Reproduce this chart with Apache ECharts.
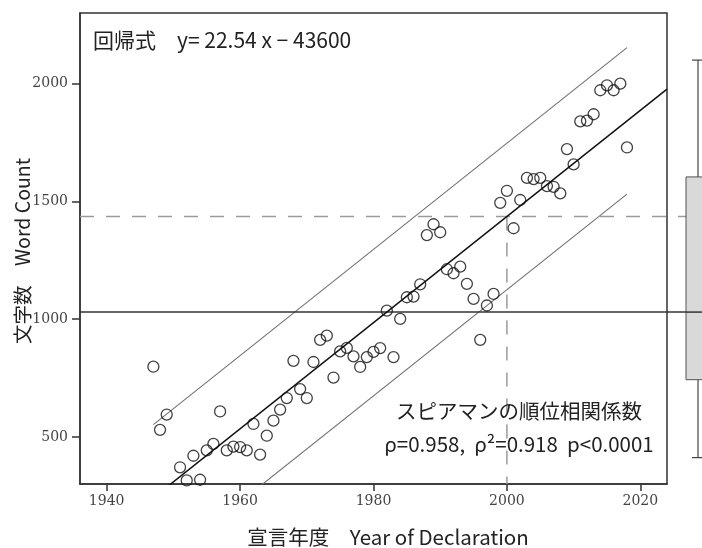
<!DOCTYPE html>
<html>
<head>
<meta charset="utf-8">
<script src="https://cdn.jsdelivr.net/npm/echarts@6/dist/echarts.min.js"></script>
<style>
  html, body { margin: 0; padding: 0; background: #fff; }
  #chart { width: 702px; height: 548px; }
</style>
</head>
<body>
<div id="chart"></div>
<script>
// Year of each declaration and its word count
const years = [
  1947, 1948, 1949, 1951, 1952, 1953, 1954, 1955, 1956, 1957, 1958, 1959, 1960, 1961, 1962, 1963, 1964,
  1965, 1966, 1967, 1968, 1969, 1970, 1971, 1972, 1973, 1974, 1975, 1976, 1977, 1978, 1979, 1980, 1981,
  1982, 1983, 1984, 1985, 1986, 1987, 1988, 1989, 1990, 1991, 1992, 1993, 1994, 1995, 1996, 1997, 1998,
  1999, 2000, 2001, 2002, 2003, 2004, 2005, 2006, 2007, 2008, 2009, 2010, 2011, 2012, 2013, 2014, 2015,
  2016, 2017, 2018
];
const wordCounts = [
  798, 530, 595, 371, 315, 420, 318, 443, 470, 608, 443, 459, 457, 443, 555, 425, 505,
  569, 616, 665, 823, 703, 665, 818, 912, 930, 752, 863, 878, 842, 797, 839, 861, 877,
  1036, 839, 1001, 1093, 1096, 1148, 1357, 1403, 1369, 1212, 1195, 1223, 1150, 1086, 912, 1058, 1107,
  1494, 1545, 1386, 1506, 1600, 1595, 1600, 1565, 1562, 1534, 1722, 1657, 1840, 1843, 1870, 1972, 1993,
  1972, 2000, 1729
];

// Axis ranges and tick labels
const xRange = [1936, 2024];
const yRange = [300, 2300];
const xTicks = [1940, 1960, 1980, 2000, 2020];
const yTicks = [500, 1000, 1500, 2000];

// Least-squares fit and its prediction band
const fitSlope = 22.54;
const fitIntercept = -43644;
const bandHalfWidth = 311;
const bandYears = [1947, 2018];
const markYear = 2000;

// Distribution of word counts: [lower whisker, Q1, median, Q3, upper whisker]
const boxStats = [412, 743, 1030, 1604, 2100];

// Spearman statistics
const rho = '0.958';
const rho2 = '0.918';
const pText = 'p<0.0001';

const fit = x => fitSlope * x + fitIntercept;
const markValue = fit(markYear);

const scatterData = years.map((y, i) => [y, wordCounts[i]]);
const fitLine = xRange.map(x => [x, fit(x)]);
const upperBand = bandYears.map(x => [x, fit(x) + bandHalfWidth]);
const lowerBand = bandYears.map(x => [x, fit(x) - bandHalfWidth]);

const FONT = '"Noto Sans CJK JP", "Noto Sans", sans-serif';
const TICK_FONT = '"DejaVu Serif", "Liberation Serif", serif';
const TEXT = '#222';
const equationText = '回帰式　y= ' + fitSlope.toFixed(2) + ' x − ' + Math.round(-fitIntercept / 100) * 100;

const chart = echarts.init(document.getElementById('chart'), null, { renderer: 'canvas' });

const hiddenAxis = {
  show: false, axisLine: { show: false }, axisTick: { show: false },
  axisLabel: { show: false }, splitLine: { show: false }
};
const plainNumber = v => String(v);

chart.setOption({
  animation: false,
  backgroundColor: '#fff',
  grid: [
    { left: 80, top: 13, width: 587, height: 471, show: true, borderColor: '#333', borderWidth: 1.5,
      backgroundColor: 'transparent', outerBoundsMode: 'none' },
    { left: 80, top: 13, width: 606, height: 471, outerBoundsMode: 'none' },
    { left: 686, top: 13, width: 24, height: 471, outerBoundsMode: 'none' }
  ],
  xAxis: [
    {
      gridIndex: 0, type: 'value', min: xRange[0], max: xRange[1],
      axisLine: { show: true, onZero: false, lineStyle: { color: '#333', width: 1.5 } },
      axisTick: { show: true, customValues: xTicks, length: 7, lineStyle: { color: '#333', width: 1.5 } },
      axisLabel: { customValues: xTicks, formatter: plainNumber, margin: 10,
        fontFamily: TICK_FONT, fontSize: 14, color: '#444' },
      splitLine: { show: false }
    },
    Object.assign({ gridIndex: 1, type: 'value', min: 0, max: 1 }, hiddenAxis),
    Object.assign({ gridIndex: 2, type: 'category', data: ['文字数'], boundaryGap: true }, hiddenAxis)
  ],
  yAxis: [
    {
      gridIndex: 0, type: 'value', min: yRange[0], max: yRange[1],
      axisLine: { show: true, onZero: false, lineStyle: { color: '#333', width: 1.5 } },
      axisTick: { show: true, customValues: yTicks, length: 8, lineStyle: { color: '#333', width: 1.5 } },
      axisLabel: { customValues: yTicks, formatter: plainNumber, margin: 12,
        fontFamily: TICK_FONT, fontSize: 14, color: '#444' },
      splitLine: { show: false }
    },
    Object.assign({ gridIndex: 1, type: 'value', min: yRange[0], max: yRange[1] }, hiddenAxis),
    Object.assign({ gridIndex: 2, type: 'value', min: yRange[0], max: yRange[1] }, hiddenAxis)
  ],
  series: [
    // median reference line running out to the box plot
    {
      type: 'line', xAxisIndex: 1, yAxisIndex: 1, symbol: 'none', silent: true, z: 3,
      data: [[0, boxStats[2]], [1, boxStats[2]]],
      lineStyle: { color: '#333', width: 1.5 }
    },
    // fitted value at the marked year
    {
      type: 'line', xAxisIndex: 1, yAxisIndex: 1, symbol: 'none', silent: true, z: 2,
      data: [[0, markValue], [1, markValue]],
      lineStyle: { color: '#9a9a9a', width: 1.5, type: [14, 12] }
    },
    {
      type: 'line', xAxisIndex: 0, yAxisIndex: 0, symbol: 'none', silent: true, z: 2,
      data: [[markYear, markValue], [markYear, yRange[0]]],
      lineStyle: { color: '#9a9a9a', width: 1.5, type: [14, 12] }
    },
    // prediction band
    {
      type: 'line', xAxisIndex: 0, yAxisIndex: 0, symbol: 'none', silent: true, z: 2,
      data: upperBand, lineStyle: { color: '#707070', width: 1.1 }
    },
    {
      type: 'line', xAxisIndex: 0, yAxisIndex: 0, symbol: 'none', silent: true, z: 2,
      data: lowerBand, lineStyle: { color: '#707070', width: 1.1 }
    },
    // regression line
    {
      type: 'line', xAxisIndex: 0, yAxisIndex: 0, symbol: 'none', silent: true, z: 3,
      data: fitLine, lineStyle: { color: '#111', width: 1.5 }
    },
    // declarations
    {
      type: 'scatter', xAxisIndex: 0, yAxisIndex: 0, z: 4,
      symbol: 'circle', symbolSize: 11,
      itemStyle: { color: 'rgba(255,255,255,0)', borderColor: '#111', borderWidth: 1.3 },
      data: scatterData
    },
    // box plot of word counts
    {
      type: 'custom', xAxisIndex: 2, yAxisIndex: 2, z: 3,
      encode: { x: 0, y: [1, 2, 3, 4, 5] },
      data: [[0].concat(boxStats)],
      renderItem: function (params, api) {
        const c = api.value(0);
        const bw = api.size([1, 0])[0];
        const cx = api.coord([c, api.value(3)])[0];
        const yv = [1, 2, 3, 4, 5].map(k => api.coord([c, api.value(k)])[1]);
        const stroke = { stroke: '#444', lineWidth: 1.2, fill: null };
        const capHalf = bw / 4;
        return {
          type: 'group',
          children: [
            { type: 'line', shape: { x1: cx, y1: yv[0], x2: cx, y2: yv[1] }, style: stroke },
            { type: 'line', shape: { x1: cx, y1: yv[3], x2: cx, y2: yv[4] }, style: stroke },
            { type: 'line', shape: { x1: cx - capHalf, y1: yv[0], x2: cx + capHalf, y2: yv[0] }, style: stroke },
            { type: 'line', shape: { x1: cx - capHalf, y1: yv[4], x2: cx + capHalf, y2: yv[4] }, style: stroke },
            { type: 'rect', shape: { x: cx - bw / 2, y: yv[3], width: bw, height: yv[1] - yv[3] },
              style: { fill: '#d9d9d9', stroke: '#555', lineWidth: 1 } },
            { type: 'line', shape: { x1: cx - bw / 2, y1: yv[2], x2: cx + bw / 2, y2: yv[2] },
              style: { stroke: '#333', lineWidth: 1.5 } }
          ]
        };
      }
    }
  ],
  graphic: [
    {
      type: 'text', x: 93, y: 40, z: 10,
      style: { text: equationText, font: '21px ' + FONT, fill: TEXT,
        align: 'left', verticalAlign: 'middle', textAlign: 'left', textVerticalAlign: 'middle' }
    },
    {
      type: 'text', x: 519, y: 411, z: 10,
      style: { text: 'スピアマンの順位相関係数', font: '20.5px ' + FONT, fill: TEXT,
        align: 'center', verticalAlign: 'middle', textAlign: 'center', textVerticalAlign: 'middle' }
    },
    {
      type: 'text', x: 519, y: 444, z: 10,
      style: { text: 'ρ=' + rho + ',  ρ²=' + rho2 + '  ' + pText, font: '20.5px ' + FONT, fill: TEXT,
        align: 'center', verticalAlign: 'middle', textAlign: 'center', textVerticalAlign: 'middle' }
    },
    {
      type: 'text', x: 388, y: 537, z: 10,
      style: { text: '宣言年度　Year of Declaration', font: '20.5px ' + FONT, fill: TEXT,
        align: 'center', verticalAlign: 'middle', textAlign: 'center', textVerticalAlign: 'middle' }
    },
    {
      type: 'text', x: 23, y: 251, rotation: Math.PI / 2, z: 10,
      style: { text: '文字数　Word Count', font: '19.5px ' + FONT, fill: TEXT,
        align: 'center', verticalAlign: 'middle', textAlign: 'center', textVerticalAlign: 'middle' }
    }
  ]
});
</script>
</body>
</html>
